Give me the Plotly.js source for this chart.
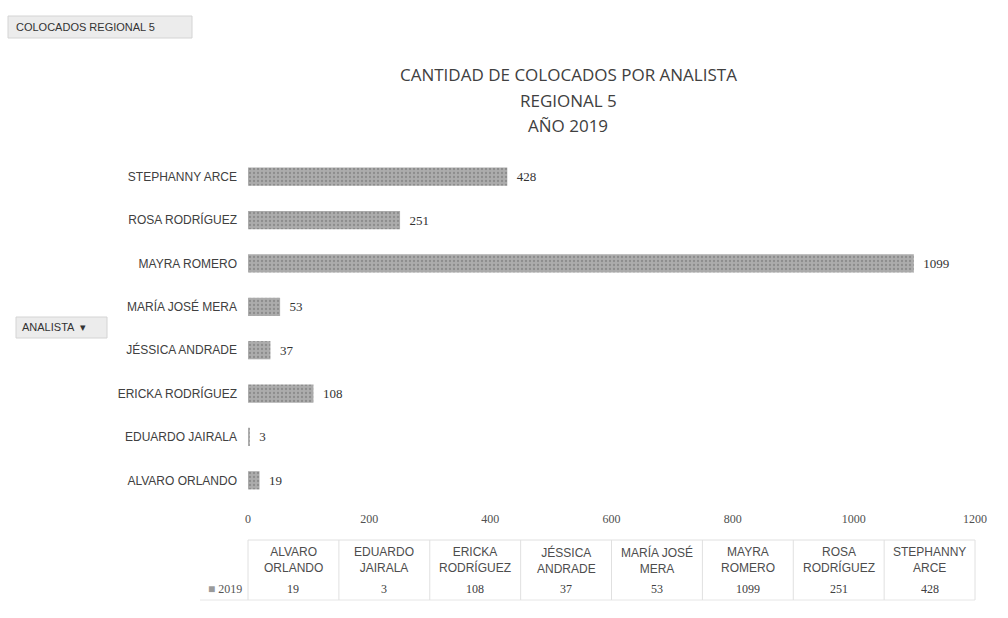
<!DOCTYPE html>
<html><head><meta charset="utf-8">
<script src="https://cdn.plot.ly/plotly-3.0.1.min.js"></script>
<style>body{margin:0;background:#fff}#c{width:1008px;height:618px}</style>
</head><body><div id="c"></div>
<script>
const analysts = ["ALVARO ORLANDO","EDUARDO JAIRALA","ERICKA RODRÍGUEZ","JÉSSICA ANDRADE","MARÍA JOSÉ MERA","MAYRA ROMERO","ROSA RODRÍGUEZ","STEPHANNY ARCE"];
const tableHeaders = ["ALVARO<br>ORLANDO","EDUARDO<br>JAIRALA","ERICKA<br>RODRÍGUEZ","JÉSSICA<br>ANDRADE","MARÍA JOSÉ<br>MERA","MAYRA<br>ROMERO","ROSA<br>RODRÍGUEZ","STEPHANNY<br>ARCE"];
const colocados2019 = [19,3,108,37,53,1099,251,428];
const xTicks = [0,200,400,600,800,1000,1200];
const seriesName = "2019";

const L=248, R=975, T=155, B=502, W=1008, H=618;
const px = x => (x-L)/(R-L);
const py = y => (B-y)/(B-T);

const sans = "Liberation Sans Narrow, Arial Narrow, Liberation Sans, sans-serif";
const serif = "Liberation Serif, DejaVu Serif, serif";

const annotations = [];
const shapes = [];
const n = analysts.length;
const colW = (R-L)/n;
shapes.push({type:'line',xref:'paper',yref:'paper',x0:px(L),x1:px(R),y0:py(540),y1:py(540),line:{color:'#e0e0e0',width:1}});
shapes.push({type:'line',xref:'paper',yref:'paper',x0:px(200),x1:px(R),y0:py(600),y1:py(600),line:{color:'#e6e6e6',width:1}});
for(let i=0;i<=n;i++){
  const x = L + i*colW;
  shapes.push({type:'line',xref:'paper',yref:'paper',x0:px(x),x1:px(x),y0:py(540),y1:py(600),line:{color:'#e0e0e0',width:1}});
}
tableHeaders.forEach((h,i)=>{
  const cx = L + (i+0.5)*colW;
  annotations.push({xref:'paper',yref:'paper',x:px(cx),y:py(560),text:h,showarrow:false,
    font:{family:sans,size:12,color:'#4d4d4d'},xanchor:'center',yanchor:'middle',align:'center'});
  annotations.push({xref:'paper',yref:'paper',x:px(cx),y:py(589),text:String(colocados2019[i]),showarrow:false,
    font:{family:serif,size:12,color:'#404040'},xanchor:'center',yanchor:'middle'});
});
annotations.push({xref:'paper',yref:'paper',x:px(244),y:py(589),text:'<span style="color:#9a9a9a">■</span> '+seriesName,showarrow:false,
  font:{family:serif,size:12,color:'#555'},xanchor:'right',yanchor:'middle'});

// pivot buttons
shapes.push({type:'rect',xref:'paper',yref:'paper',x0:px(8),x1:px(192),y0:py(16),y1:py(38),fillcolor:'#ececec',line:{color:'#d4d4d4',width:1}});
annotations.push({xref:'paper',yref:'paper',x:px(14),y:py(27),text:'COLOCADOS REGIONAL 5',showarrow:false,
  font:{family:sans,size:11,color:'#333'},xanchor:'left',yanchor:'middle'});
shapes.push({type:'rect',xref:'paper',yref:'paper',x0:px(16),x1:px(107),y0:py(317),y1:py(338),fillcolor:'#ececec',line:{color:'#d4d4d4',width:1}});
annotations.push({xref:'paper',yref:'paper',x:px(20),y:py(327),text:'ANALISTA  ▾',showarrow:false,
  font:{family:sans,size:11,color:'#333'},xanchor:'left',yanchor:'middle'});

// titles
["CANTIDAD DE COLOCADOS POR ANALISTA","REGIONAL 5","AÑO 2019"].forEach((t,i)=>{
  annotations.push({xref:'paper',yref:'paper',x:px(568),y:py(75+i*25),text:t,showarrow:false,
    font:{family:"Open Sans, sans-serif",size:17,color:'#404040'},xanchor:'center',yanchor:'middle'});
});

const trace = {
  type:'bar', orientation:'h', y:analysts, x:colocados2019, name:seriesName,
  marker:{color:'#a4a4a4', line:{width:0},
    pattern:{shape:'.', fgcolor:'#8c8c8c', bgcolor:'#acacac', size:4, solidity:0.25}},
  width:0.42,
  text:colocados2019.map(v=>'\u2002'+v), textposition:'outside', cliponaxis:false,
  textfont:{family:serif,size:13,color:'#333'},
  outsidetextfont:{family:serif,size:13,color:'#333'}
};

const layout = {
  width:W, height:H, margin:{l:L,r:W-R,t:T,b:H-B},
  paper_bgcolor:'#fff', plot_bgcolor:'#fff', showlegend:false,
  xaxis:{range:[0,1200],tickvals:xTicks,ticktext:xTicks.map(String),showgrid:false,zeroline:false,showline:false,
    tickfont:{family:serif,size:12,color:'#505050'},ticks:'',ticklabelstandoff:8},
  yaxis:{type:'category',showgrid:false,zeroline:false,showline:false,ticks:'',
    tickfont:{family:sans,size:12,color:'#404040'},ticklabelstandoff:10},
  annotations, shapes
};
Plotly.newPlot('c',[trace],layout,{displayModeBar:false,staticPlot:true});
</script></body></html>
